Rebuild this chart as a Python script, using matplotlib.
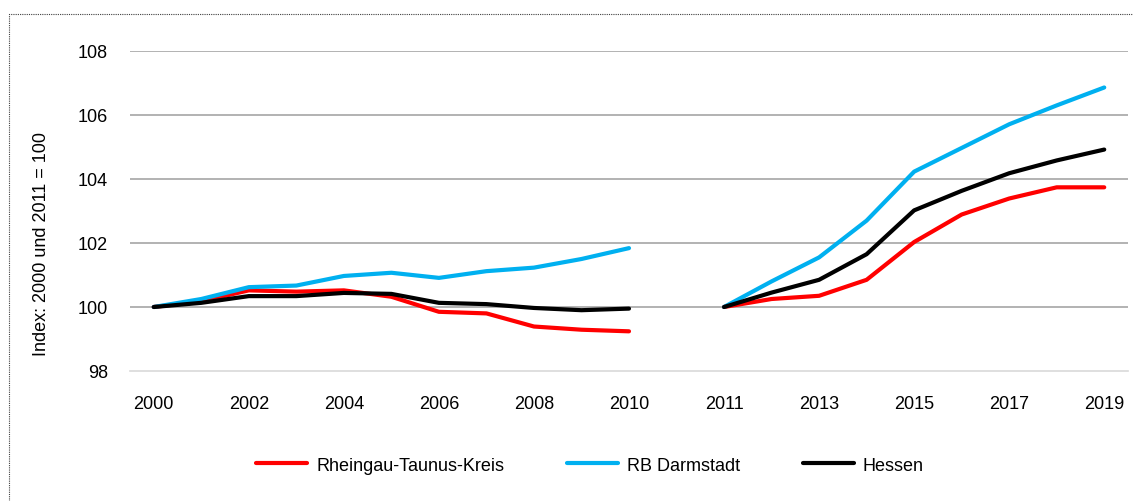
import numpy as np
import matplotlib.pyplot as plt
from matplotlib.patches import Rectangle

plt.rcParams['font.family'] = ['Liberation Sans', 'DejaVu Sans']

# categories (gap between 2010 and 2011)
years = [str(y) for y in range(2000, 2011)] + [''] + [str(y) for y in range(2011, 2020)]

rtk = [100.0, 100.18, 100.52, 100.48, 100.52, 100.32, 99.85, 99.8, 99.39, 99.29, 99.24,
       np.nan,
       100.0, 100.25, 100.35, 100.85, 102.03, 102.89, 103.39, 103.74, 103.74]
rb_da = [100.0, 100.25, 100.62, 100.67, 100.97, 101.07, 100.91, 101.12, 101.23, 101.5, 101.84,
         np.nan,
         100.0, 100.8, 101.55, 102.7, 104.23, 104.97, 105.71, 106.3, 106.86]
hessen = [100.0, 100.13, 100.34, 100.34, 100.44, 100.41, 100.13, 100.09, 99.97, 99.9, 99.95,
          np.nan,
          100.0, 100.45, 100.85, 101.65, 103.02, 103.63, 104.18, 104.58, 104.92]

fig = plt.figure(figsize=(11.33, 5.02), dpi=100)
ax = fig.add_axes([130 / 1133, 1 - 372 / 502, 998 / 1133, 320 / 502])

x = np.arange(len(years))
ax.plot(x, rtk, color='#FF0000', lw=3, solid_capstyle='round', label='Rheingau-Taunus-Kreis')
ax.plot(x, rb_da, color='#00B0F0', lw=3, solid_capstyle='round', label='RB Darmstadt')
ax.plot(x, hessen, color='#000000', lw=3, solid_capstyle='round', label='Hessen')

ax.set_xlim(-0.5, len(years) - 0.5)
ax.set_ylim(98, 108)
ax.set_yticks(range(98, 109, 2))
ax.set_xticks(x[::2])
ax.set_xticklabels(years[::2])
ax.tick_params(axis='y', length=0, pad=16, labelsize=13)
ax.tick_params(axis='x', length=0, pad=17, labelsize=13)

for v in range(100, 109, 2):
    ax.axhline(v, color='#A6A6A6', lw=1.2, zorder=0)
for s in ['top', 'right', 'left']:
    ax.spines[s].set_visible(False)
ax.spines['bottom'].set_color('#D9D9D9')
ax.spines['bottom'].set_linewidth(1.2)

ax.set_ylabel('Index: 2000 und 2011 = 100', fontsize=13)
ax.yaxis.set_label_coords((50 - 130) / 998, 0.40)

ax.legend(loc='center', bbox_to_anchor=(0.461, -0.294), ncol=3, frameon=False,
          fontsize=13, handlelength=2.8, columnspacing=3.5, handletextpad=0.5)

# dotted frame around the chart
fig.patches.append(Rectangle((9 / 1133, -0.05), 1.2, 1 - 15 / 502 + 0.05,
                             transform=fig.transFigure, fill=False,
                             linestyle=(0, (1, 1)), lw=0.8, edgecolor='#404040'))

fig.savefig('out.png', dpi=100)
